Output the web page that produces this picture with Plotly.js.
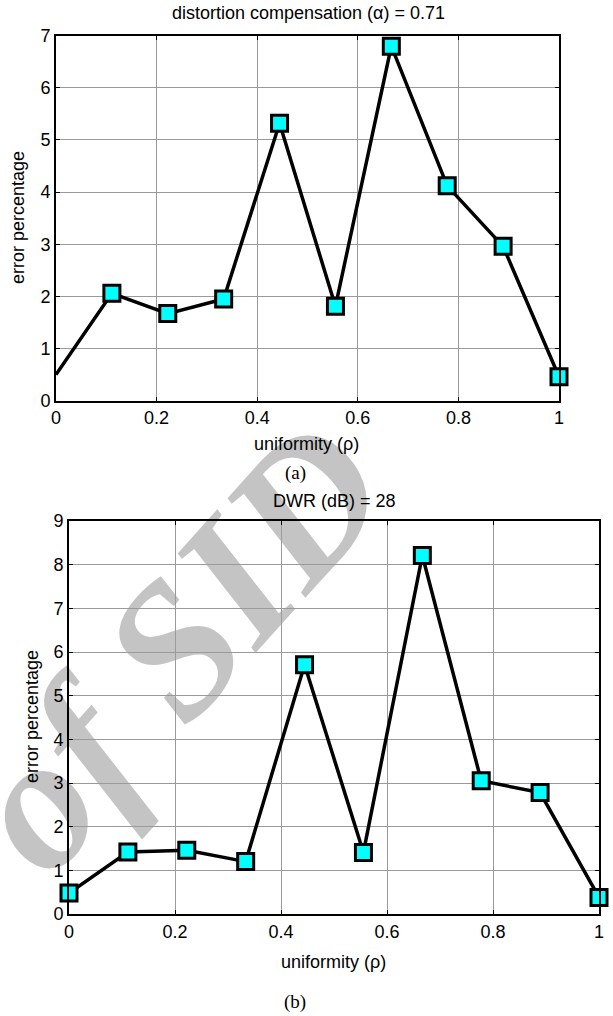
<!DOCTYPE html>
<html>
<head>
<meta charset="utf-8">
<script src="https://cdn.plot.ly/plotly-3.0.1.min.js"></script>
<style>html,body{margin:0;padding:0;background:#fff;}#chart{width:613px;height:1016px;}</style>
</head>
<body>
<div id="chart"></div>
<script>
// uniformity (rho) sample points
const uniformity = [0, 1/9, 2/9, 3/9, 4/9, 5/9, 6/9, 7/9, 8/9, 1];
// (a) distortion compensation (alpha) = 0.71
const errorA = [0.50, 2.06, 1.67, 1.95, 5.32, 1.81, 6.80, 4.12, 2.96, 0.46];
// (b) DWR (dB) = 28
const errorB = [0.48, 1.42, 1.46, 1.20, 5.71, 1.41, 8.21, 3.05, 2.78, 0.38];
const xTicks = [0, 0.2, 0.4, 0.6, 0.8, 1];
const yTicksA = [0, 1, 2, 3, 4, 5, 6, 7];
const yTicksB = [0, 1, 2, 3, 4, 5, 6, 7, 8, 9];
const titleA = 'distortion compensation (\u03b1) = 0.71';
const titleB = 'DWR (dB) = 28';
const xLabel = 'uniformity (\u03c1)';
const yLabel = 'error percentage';
const watermark = 'of SID';

const W = 613, H = 1016;
const px = x => x / W;
const py = y => 1 - y / H;

const markerOpacityA = uniformity.map((_, i) => i === 0 ? 0 : 1);

const lineStyle = {color: '#000', width: 3.5};
const markerStyle = {symbol: 'square', size: 16, color: '#00ffff', line: {color: '#000', width: 3}};

const traces = [
  {x: uniformity, y: errorA, xaxis: 'x', yaxis: 'y', mode: 'lines+markers', type: 'scatter',
   line: lineStyle, marker: Object.assign({}, markerStyle, {opacity: markerOpacityA}), cliponaxis: false, hoverinfo: 'skip'},
  {x: uniformity, y: errorB, xaxis: 'x2', yaxis: 'y2', mode: 'lines+markers', type: 'scatter',
   line: lineStyle, marker: markerStyle, cliponaxis: false, hoverinfo: 'skip'}
];

const tickFont = {family: 'Liberation Sans, Arial, sans-serif', size: 18, color: '#000'};
function axisCommon(extra) {
  return Object.assign({
    showline: true, linecolor: '#000', linewidth: 2, mirror: 'ticks',
    ticks: 'inside', ticklen: 4, tickwidth: 1, tickcolor: '#000',
    showgrid: true, gridcolor: '#9a9a9a', gridwidth: 1,
    zeroline: false, tickfont: tickFont, fixedrange: true
  }, extra);
}

const annFont = {family: 'Liberation Sans, Arial, sans-serif', size: 18, color: '#000'};
const serifFont = {family: 'Liberation Serif, Times New Roman, serif', size: 19, color: '#000'};
function ann(text, x, y, font, angle) {
  return {text: text, xref: 'paper', yref: 'paper', x: px(x), y: py(y),
          xanchor: 'center', yanchor: 'middle', showarrow: false, font: font, textangle: angle || 0};
}

const wmX = 160, wmY = 632;
const layout = {
  width: W, height: H,
  margin: {l: 0, r: 0, t: 0, b: 0},
  paper_bgcolor: '#fff', plot_bgcolor: 'rgba(0,0,0,0)',
  showlegend: false,
  xaxis: axisCommon({domain: [px(56), px(559)], range: [0, 1], tickvals: xTicks, anchor: 'y'}),
  yaxis: axisCommon({domain: [py(400.7), py(35.7)], range: [0, 7], tickvals: yTicksA, anchor: 'x'}),
  xaxis2: axisCommon({domain: [px(69), px(599)], range: [0, 1], tickvals: xTicks, anchor: 'y2'}),
  yaxis2: axisCommon({domain: [py(914), py(521)], range: [0, 9], tickvals: yTicksB, anchor: 'x2'}),
  shapes: [{
    type: 'rect', xref: 'paper', yref: 'paper', layer: 'below',
    x0: px(wmX - 1), x1: px(wmX + 1), y0: py(wmY + 1), y1: py(wmY - 1),
    line: {width: 0}, fillcolor: 'rgba(0,0,0,0)',
    label: {text: watermark, textangle: -48, textposition: 'middle center',
            font: {family: 'Liberation Serif, Times New Roman, serif', size: 190, color: '#c4c4c4', style: 'italic', weight: 'bold'}}
  }],
  annotations: [
    ann(titleA, 308, 13, annFont),
    ann(xLabel, 306, 444, annFont),
    ann(yLabel, 18, 218, annFont, -90),
    ann('(a)', 295, 473, serifFont),
    ann(titleB, 334, 501, annFont),
    ann(xLabel, 333, 962, annFont),
    ann(yLabel, 32, 717, annFont, -90),
    ann('(b)', 295, 1002, serifFont)
  ]
};

Plotly.newPlot('chart', traces, layout, {staticPlot: true});
</script>
</body>
</html>
